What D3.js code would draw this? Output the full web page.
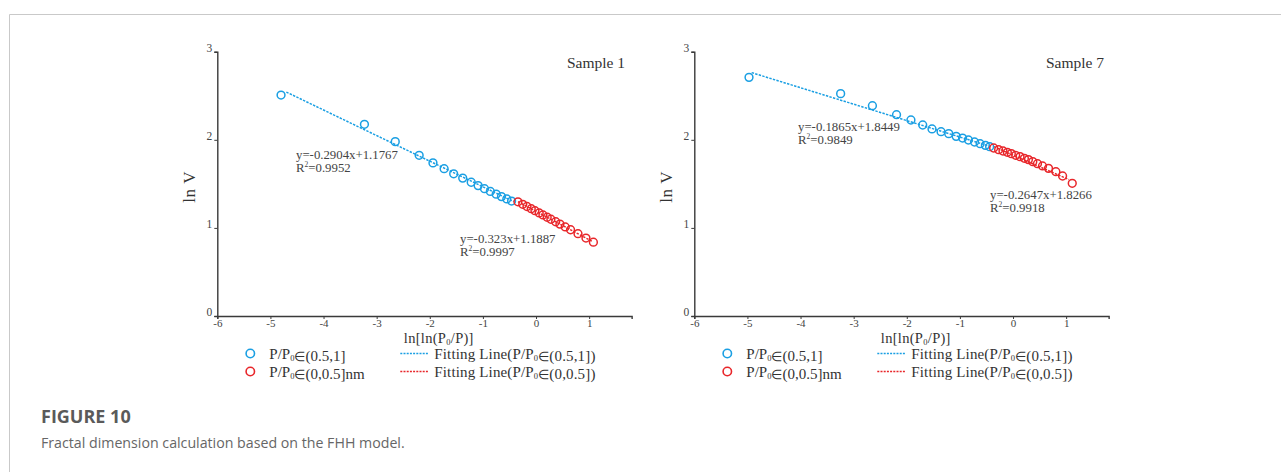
<!DOCTYPE html>
<html>
<head>
<meta charset="utf-8">
<script src="https://cdn.jsdelivr.net/npm/d3@7"></script>
<style>
  html, body { margin: 0; padding: 0; background: #fff; }
  svg { display: block; }
</style>
</head>
<body>
<svg id="fig" width="1281" height="472"></svg>
<script>
// FHH fractal analysis: ln V versus ln[ln(P0/P)] for two samples
const sampleNames = ["Sample 1", "Sample 7"];

// Sample 1 — high-pressure branch P/P0 ∈ (0.5,1]
const s1HighX = [-4.80, -3.23, -2.65, -2.20, -1.94, -1.73, -1.55, -1.38, -1.22, -1.09, -0.97, -0.86, -0.75, -0.65, -0.55, -0.46];
const s1HighY = [2.508, 2.176, 1.979, 1.824, 1.738, 1.672, 1.614, 1.565, 1.518, 1.480, 1.445, 1.414, 1.383, 1.355, 1.329, 1.305];
// Sample 1 — low-pressure branch P/P0 ∈ (0,0.5]
const s1LowX = [-0.34, -0.25, -0.17, -0.09, -0.02, 0.06, 0.13, 0.21, 0.28, 0.37, 0.45, 0.55, 0.65, 0.79, 0.94, 1.08];
const s1LowY = [1.296, 1.268, 1.243, 1.218, 1.195, 1.170, 1.147, 1.121, 1.098, 1.070, 1.043, 1.011, 0.979, 0.934, 0.885, 0.838];

// Sample 7 — high-pressure branch
const s7HighX = [-4.97, -3.245, -2.647, -2.193, -1.922, -1.70, -1.525, -1.355, -1.21, -1.07, -0.95, -0.84, -0.725, -0.62, -0.52, -0.44];
const s7HighY = [2.709, 2.524, 2.387, 2.285, 2.225, 2.168, 2.123, 2.092, 2.070, 2.039, 2.020, 1.998, 1.975, 1.956, 1.937, 1.922];
// Sample 7 — low-pressure branch
const s7LowX = [-0.365, -0.271, -0.189, -0.107, -0.032, 0.050, 0.132, 0.214, 0.290, 0.372, 0.460, 0.555, 0.668, 0.807, 0.933, 1.115];
const s7LowY = [1.907, 1.888, 1.873, 1.858, 1.843, 1.824, 1.809, 1.790, 1.775, 1.752, 1.729, 1.703, 1.676, 1.638, 1.589, 1.506];

// Linear fits [high branch, low branch] for each sample
const s1FitSlope = [-0.2904, -0.323];
const s1FitIntercept = [1.1767, 1.1887];
const s1FitR2 = ["0.9952", "0.9997"];
const s1FitRange = [[-4.70, -0.42], [-0.34, 1.05]];

const s7FitSlope = [-0.1865, -0.2647];
const s7FitIntercept = [1.8449, 1.8266];
const s7FitR2 = ["0.9849", "0.9918"];
const s7FitRange = [[-4.92, -0.42], [-0.36, 1.05]];

const xTicks = [-6, -5, -4, -3, -2, -1, 0, 1];
const yTicks = [0, 1, 2, 3];
const legendLabels = ["P/P\u2080\u2208(0.5,1]", "P/P\u2080\u2208(0,0.5]nm",
                      "Fitting Line(P/P\u2080\u2208(0.5,1])", "Fitting Line(P/P\u2080\u2208(0,0.5])"];

const BLUE = "#1a9fe3";
const RED = "#e8262a";
const SERIF = "'Liberation Serif', 'Times New Roman', serif";
const SANS = "'Open Sans', 'Noto Sans', sans-serif";

const svg = d3.select("#fig");

// page frame
svg.append("line").attr("x1", 9.5).attr("x2", 1281).attr("y1", 14.5).attr("y2", 14.5)
  .attr("stroke", "#c9c9c9").attr("stroke-width", 1);
svg.append("line").attr("x1", 9.5).attr("x2", 9.5).attr("y1", 14.5).attr("y2", 472)
  .attr("stroke", "#c9c9c9").attr("stroke-width", 1);

const panels = [
  { name: sampleNames[0], left: 217.3, hi: [s1HighX, s1HighY], lo: [s1LowX, s1LowY],
    slope: s1FitSlope, icpt: s1FitIntercept, r2: s1FitR2, range: s1FitRange,
    eqPos: [[296, 155], [460, 239]], namePos: 625 },
  { name: sampleNames[1], left: 694.3, hi: [s7HighX, s7HighY], lo: [s7LowX, s7LowY],
    slope: s7FitSlope, icpt: s7FitIntercept, r2: s7FitR2, range: s7FitRange,
    eqPos: [[798, 127], [990, 195]], namePos: 1104 }
];

const plotTop = 51.7, plotBottom = 316, unitX = 53.12;

// split label text on the subscript zero and render it lowered; the
// element-of sign comes from a fallback font, so it is set a bit smaller
function writeSub(textSel, str) {
  const parts = str.split("\u2080");
  parts.forEach((part, k) => {
    const pieces = part.split("\u2208");
    pieces.forEach((piece, j) => {
      textSel.append("tspan").attr("dy", (k > 0 && j === 0) ? -2.5 : null).text(piece);
      if (j < pieces.length - 1) textSel.append("tspan").attr("font-size", "0.85em").text("\u2208");
    });
    if (k < parts.length - 1) textSel.append("tspan").attr("font-size", 8.5).attr("dy", 2.5).text("0");
  });
}

panels.forEach(p => {
  const x = d3.scaleLinear().domain([-6, 1.8]).range([p.left, p.left + 7.8 * unitX]);
  const y = d3.scaleLinear().domain([0, 3]).range([plotBottom, plotTop]);
  const g = svg.append("g");

  // axes
  const xAxis = d3.axisBottom(x).tickValues(xTicks).tickSize(3).tickFormat(d3.format("d"));
  const gx = g.append("g").attr("transform", `translate(0,${plotBottom})`).call(xAxis);
  gx.select(".domain").attr("stroke", "#3a3a3a").attr("stroke-width", 1.4);
  gx.selectAll(".tick line").attr("stroke", "#3a3a3a");
  gx.selectAll("text").attr("font-family", SERIF).attr("font-size", 11).attr("fill", "#444")
    .attr("dy", "0.35em").attr("y", 7).text(d => d < 0 ? "-" + Math.abs(d) : d);

  const yAxis = d3.axisLeft(y).tickValues(yTicks).tickSize(3).tickFormat(d3.format("d"));
  const gy = g.append("g").attr("transform", `translate(${p.left},0)`).call(yAxis);
  gy.select(".domain").attr("stroke", "#3a3a3a").attr("stroke-width", 1.4);
  gy.selectAll(".tick line").attr("stroke", "#3a3a3a");
  gy.selectAll("text").attr("font-family", SERIF).attr("font-size", 11.5).attr("fill", "#444")
    .attr("x", -5).attr("dy", "-0.05em");

  // axis titles
  g.append("text").attr("transform", `translate(${p.left - 22},${(plotTop + plotBottom) / 2 + 3}) rotate(-90)`)
    .attr("text-anchor", "middle").attr("font-family", SERIF).attr("font-size", 17).attr("fill", "#333")
    .attr("letter-spacing", 0.6).text("ln V");
  const xt = g.append("text").attr("x", x(-1.83)).attr("y", 342.5).attr("text-anchor", "middle")
    .attr("font-family", SERIF).attr("font-size", 14.5).attr("letter-spacing", 0.3).attr("fill", "#333");
  xt.append("tspan").text("ln[ln(P");
  xt.append("tspan").attr("font-size", 8.5).attr("dy", 2).text("0");
  xt.append("tspan").attr("dy", -2).text("/P)]");

  // sample name
  g.append("text").attr("x", p.namePos).attr("y", 68).attr("text-anchor", "end")
    .attr("font-family", SERIF).attr("font-size", 15.5).attr("fill", "#333").text(p.name);

  // fitted lines
  const line = d3.line().x(d => x(d[0])).y(d => y(d[1]));
  [BLUE, RED].forEach((c, i) => {
    const pts = p.range[i].map(v => [v, p.slope[i] * v + p.icpt[i]]);
    g.append("path").attr("d", line(pts)).attr("fill", "none").attr("stroke", c)
      .attr("stroke-width", 1.5).attr("stroke-dasharray", "2.4,1.3");
  });

  // scatter points
  [[p.hi, BLUE], [p.lo, RED]].forEach(([s, c]) => {
    g.append("g").selectAll("circle").data(s[0].map((v, k) => [v, s[1][k]])).join("circle")
      .attr("cx", d => x(d[0])).attr("cy", d => y(d[1])).attr("r", 3.9)
      .attr("fill", "none").attr("stroke", c).attr("stroke-width", 1.5);
  });

  // equations
  [0, 1].forEach(i => {
    const [ex, ey] = p.eqPos[i];
    g.append("text").attr("font-family", SERIF).attr("font-size", 12.8).attr("fill", "#444")
      .attr("x", ex).attr("y", ey + 4).text(`y=${p.slope[i]}x+${p.icpt[i]}`);
    const t2 = g.append("text").attr("font-family", SERIF).attr("font-size", 12.8).attr("fill", "#444")
      .attr("x", ex).attr("y", ey + 16.5);
    t2.append("tspan").text("R");
    t2.append("tspan").attr("font-size", 7.5).attr("dy", -5).text("2");
    t2.append("tspan").attr("dy", 5).text("=" + p.r2[i]);
  });

  // legend
  const lx = p.left + 33;
  [[BLUE, 353.5, 0], [RED, 371.5, 1]].forEach(([c, ly, i]) => {
    g.append("circle").attr("cx", lx).attr("cy", ly).attr("r", 4.2).attr("fill", "none")
      .attr("stroke", c).attr("stroke-width", 1.6);
    const lt = g.append("text").attr("x", lx + 19).attr("y", ly + 5)
      .attr("font-family", SERIF).attr("font-size", 15).attr("fill", "#333");
    writeSub(lt, legendLabels[i]);
    g.append("line").attr("x1", lx + 150).attr("x2", lx + 178).attr("y1", ly).attr("y2", ly)
      .attr("stroke", c).attr("stroke-width", 1.5).attr("stroke-dasharray", "2,1.2");
    const ft = g.append("text").attr("x", lx + 184).attr("y", ly + 5)
      .attr("font-family", SERIF).attr("font-size", 15).attr("letter-spacing", 0.15).attr("fill", "#333");
    writeSub(ft, legendLabels[i + 2]);
  });
});

// caption
svg.append("text").attr("x", 41).attr("y", 423).attr("font-family", SANS).attr("font-weight", 700)
  .attr("font-size", 18).attr("fill", "#5a5a5a").text("FIGURE 10");
svg.append("text").attr("x", 41).attr("y", 448).attr("font-family", SANS)
  .attr("font-size", 14.2).attr("fill", "#666").text("Fractal dimension calculation based on the FHH model.");
</script>
</body>
</html>
